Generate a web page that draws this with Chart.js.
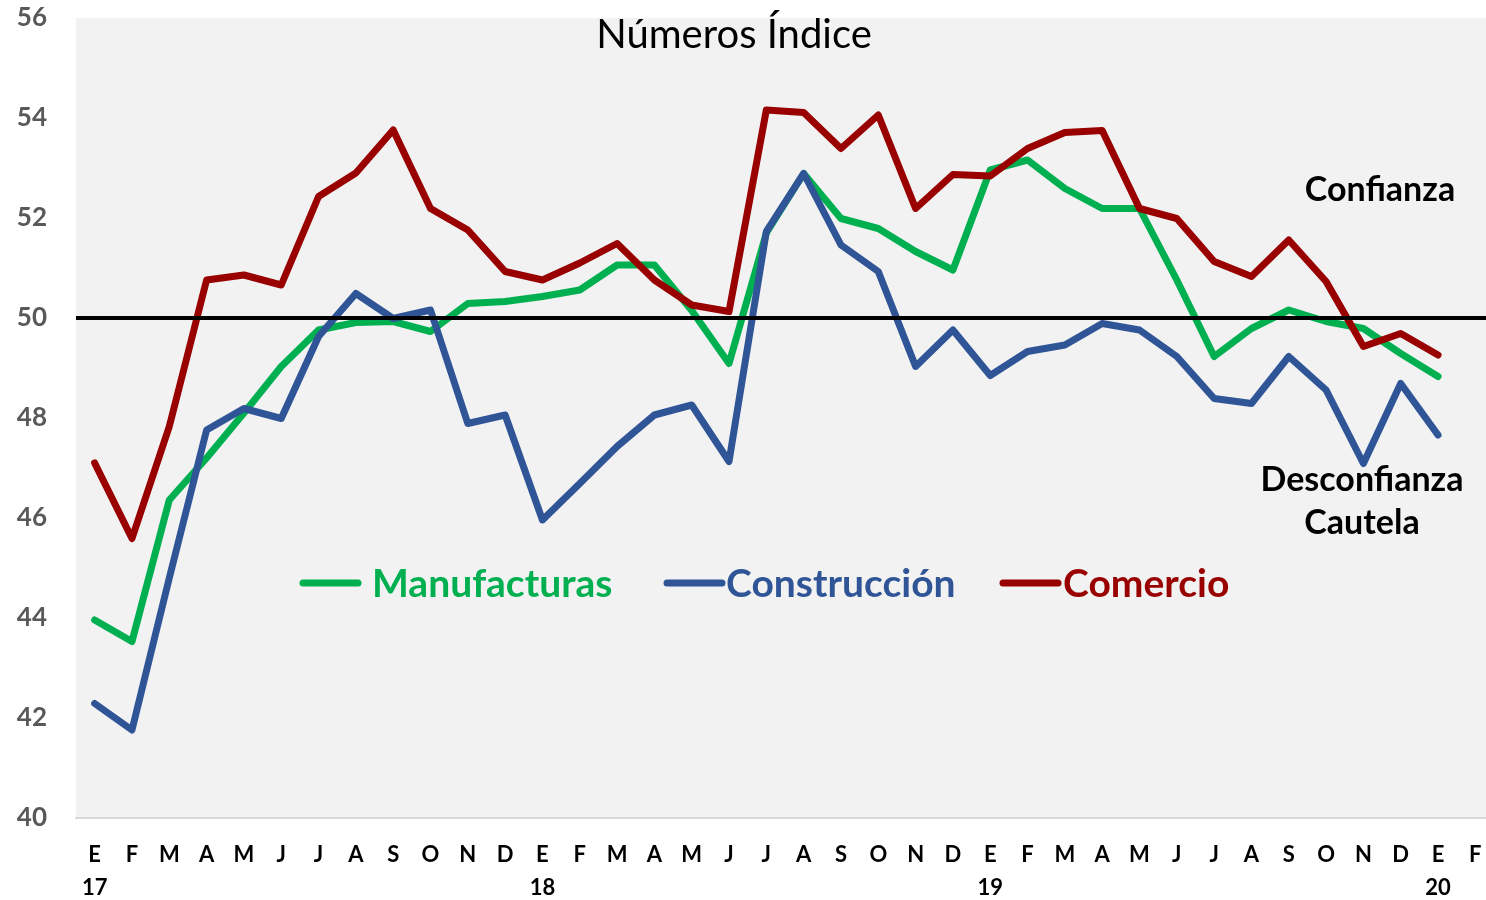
<!DOCTYPE html>
<html>
<head>
<meta charset="utf-8">
<script src="https://cdn.jsdelivr.net/npm/chart.js@4.4.1/dist/chart.umd.min.js"></script>
<style>
    body { margin: 0; background: #fff; overflow: hidden; }
    #wrap { width: 1510px; height: 900px; }
</style>
</head>
<body>
<div id="wrap"><canvas id="chart" width="1510" height="900"></canvas></div>
<script>
        // Data (Ene 2017 .. Feb 2020)
        const monthLetters = ['E', 'F', 'M', 'A', 'M', 'J', 'J', 'A', 'S', 'O', 'N', 'D'];
        const yearLabels = ['17', '18', '19', '20'];
        const monthCount = 38;

        const manufacturas = [43.96, 43.53, 46.36, 47.2, 48.1, 49.03, 49.76, 49.91, 49.93, 49.73, 50.29, 50.33,
            50.43, 50.56, 51.06, 51.06, 50.15, 49.09, 51.7, 52.89, 51.99, 51.79, 51.33, 50.96,
            52.96, 53.16, 52.59, 52.19, 52.19, 50.76, 49.23, 49.79, 50.16, 49.93, 49.79, 49.29,
            48.83, null];
        const construccion = [42.29, 41.76, 44.8, 47.76, 48.19, 47.99, 49.63, 50.49, 49.99, 50.16, 47.89, 48.06,
            45.96, 46.69, 47.43, 48.06, 48.26, 47.13, 51.73, 52.89, 51.46, 50.93, 49.03, 49.76,
            48.85, 49.33, 49.46, 49.89, 49.76, 49.23, 48.39, 48.29, 49.23, 48.56, 47.09, 48.69,
            47.66, null];
        const comercio = [47.1, 45.59, 47.83, 50.76, 50.86, 50.66, 52.43, 52.9, 53.76, 52.19, 51.76, 50.93,
            50.76, 51.1, 51.49, 50.76, 50.26, 50.13, 54.16, 54.11, 53.39, 54.06, 52.19, 52.87,
            52.84, 53.39, 53.71, 53.75, 52.19, 51.99, 51.13, 50.83, 51.56, 50.73, 49.43, 49.69,
            49.26, null];
        const threshold = 50;

        // Month letter, plus the year under every January
        const labels = [];
        for (let i = 0; i < monthCount; i++) {
            const m = i % 12;
            if (m === 0) labels.push([monthLetters[m], yearLabels[i / 12]]);
            else labels.push(monthLetters[m]);
        }

        const FONT = 'Lato, "Open Sans", sans-serif';

        const decorPlugin = {
            id: 'decor',
            beforeDraw(chart) {
                const { ctx, chartArea: a } = chart;
                ctx.save();
                ctx.fillStyle = '#f2f2f2';
                ctx.fillRect(a.left, a.top, a.right - a.left, a.bottom - a.top);
                ctx.restore();
            },
            afterDatasetsDraw(chart) {
                const { ctx, chartArea: a } = chart;
                const y = chart.scales.y.getPixelForValue(threshold);
                ctx.save();
                ctx.strokeStyle = '#000';
                ctx.lineWidth = 4;
                ctx.beginPath();
                ctx.moveTo(a.left, y);
                ctx.lineTo(a.right, y);
                ctx.stroke();

                // title
                ctx.fillStyle = '#000';
                ctx.font = '40px ' + FONT;
                ctx.textAlign = 'center';
                ctx.textBaseline = 'middle';
                ctx.fillText('Números Índice', 734, 35);

                // annotations
                ctx.font = 'bold 34px ' + FONT;
                ctx.fillText('Confianza', 1380, 190);
                ctx.fillText('Desconfianza', 1362, 480);
                ctx.fillText('Cautela', 1362, 523);

                // legend inside the plot
                const spots = [[303, 372], [667, 726], [1003, 1063]];
                ctx.font = 'bold 39px ' + FONT;
                ctx.textAlign = 'left';
                chart.data.datasets.forEach((ds, i) => {
                    const [lx, tx] = spots[i];
                    ctx.strokeStyle = ds.borderColor;
                    ctx.lineWidth = 7;
                    ctx.lineCap = 'round';
                    ctx.beginPath();
                    ctx.moveTo(lx, 583);
                    ctx.lineTo(lx + 55, 583);
                    ctx.stroke();
                    ctx.fillStyle = ds.borderColor;
                    ctx.fillText(ds.label, tx, 584);
                });
                ctx.restore();
            }
        };

        new Chart(document.getElementById('chart'), {
            type: 'line',
            data: {
                labels: labels,
                datasets: [
                    { label: 'Manufacturas', data: manufacturas, borderColor: '#00b050', order: 3 },
                    { label: 'Construcción', data: construccion, borderColor: '#2f5597', order: 2 },
                    { label: 'Comercio', data: comercio, borderColor: '#990000', order: 1 }
                ]
            },
            options: {
                responsive: false,
                animation: false,
                layout: { padding: { top: 18, right: 16, left: 0, bottom: 0 } },
                elements: {
                    line: { borderWidth: 7, tension: 0, borderCapStyle: 'round', borderJoinStyle: 'round' },
                    point: { radius: 0 }
                },
                plugins: {
                    legend: { display: false },
                    tooltip: { enabled: false }
                },
                scales: {
                    x: {
                        offset: true,
                        grid: { display: false, drawTicks: false },
                        border: { display: true, color: '#d9d9d9', width: 2 },
                        ticks: {
                            autoSkip: false, maxRotation: 0, minRotation: 0,
                            color: '#000', padding: 20,
                            font: { family: FONT, size: 22, weight: 'bold', lineHeight: 1.5 }
                        },
                        afterFit(scale) {
                            scale.height = 82;
                            scale.paddingLeft = 0;
                            scale.paddingRight = 0;
                        }
                    },
                    y: {
                        min: 40, max: 56,
                        grid: { display: false, drawTicks: false },
                        border: { display: false },
                        ticks: {
                            stepSize: 2, color: '#595959', padding: 29,
                            font: { family: FONT, size: 26, weight: 'bold' }
                        },
                        afterFit(scale) {
                            scale.width = 76;
                            scale.paddingTop = 0;
                            scale.paddingBottom = 0;
                        }
                    }
                }
            },
            plugins: [decorPlugin]
        });
</script>
</body>
</html>
